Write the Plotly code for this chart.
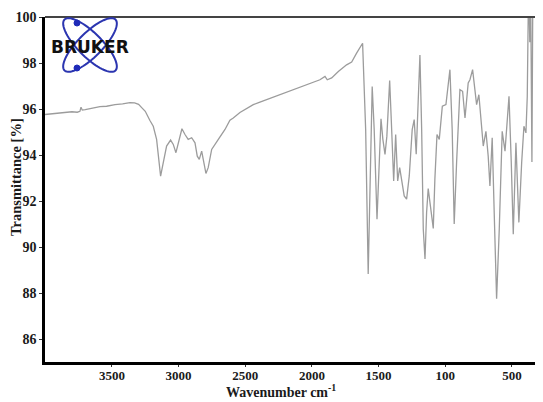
import numpy as np
import plotly.graph_objects as go

# ---------------- data ----------------
wavenumber = [
    4002, 3950, 3900, 3850, 3800, 3760, 3740, 3732, 3722, 3700, 3650, 3590, 3540, 3477, 3420,
    3365, 3330, 3300, 3275, 3250, 3215, 3190, 3165, 3153, 3135, 3115, 3090, 3060, 3040, 3020,
    2995, 2975, 2952, 2928, 2902, 2877, 2860, 2845, 2827, 2810, 2795, 2778, 2752, 2702, 2652,
    2615, 2590, 2540, 2490, 2440, 2390, 2340, 2290, 2240, 2190, 2140, 2090, 2040, 1990, 1940,
    1902, 1885, 1852, 1802, 1740, 1702, 1665, 1620,
    1597, 1578, 1548, 1533, 1512, 1498, 1482, 1468, 1452, 1438, 1417, 1402, 1387, 1372, 1357,
    1342, 1327, 1308, 1290, 1270, 1248, 1233, 1218, 1203, 1190, 1177, 1165, 1152, 1140, 1128,
    1108, 1090, 1078, 1062, 1045, 1022, 995, 965, 948, 933, 915, 890, 870, 852, 828, 815, 795,
    783, 765, 748, 733, 715, 695, 678, 665, 648, 633, 615, 595, 573, 552, 522, 505, 490, 470,
    448, 427, 410, 395, 385, 375, 366, 360, 350, 343, 300, 297,
]
transmittance = [
    95.76, 95.79, 95.83, 95.85, 95.88, 95.86, 95.90, 96.08, 95.95, 95.97, 96.03, 96.10, 96.12, 96.19, 96.22,
    96.28, 96.27, 96.20, 96.05, 95.90, 95.50, 95.25, 94.68, 94.10, 93.08, 93.67, 94.39, 94.65, 94.46, 94.10,
    94.68, 95.14, 94.89, 94.68, 94.75, 94.53, 93.95, 93.81, 94.17, 93.67, 93.20, 93.45, 94.24, 94.68, 95.11,
    95.51, 95.61, 95.85, 96.02, 96.19, 96.30, 96.41, 96.52, 96.62, 96.74, 96.84, 96.95, 97.06, 97.16, 97.27,
    97.42, 97.27, 97.35, 97.63, 97.92, 98.04, 98.43, 98.86,
    95.10, 88.83, 96.98, 95.10, 91.21, 93.67, 95.57, 94.68, 94.03, 94.82, 97.24, 95.10, 92.87, 94.89, 92.87,
    93.45, 92.94, 92.22, 92.08, 93.09, 95.10, 95.54, 94.03, 96.55, 98.35, 95.10, 90.78, 89.48, 91.50, 92.54,
    91.65, 90.81, 92.94, 94.89, 94.68, 96.12, 96.19, 97.71, 95.10, 91.00, 93.67, 96.84, 96.77, 95.61, 97.13, 97.27, 97.71,
    96.98, 96.19, 96.62, 95.54, 94.39, 95.03, 93.95, 92.65, 94.75, 91.50, 87.75, 90.78, 95.03, 94.17, 96.55, 93.67, 90.56, 94.53,
    91.07, 93.67, 95.25, 94.96, 96.55, 101.5, 98.9, 101.5, 93.70, 101.5, 101.5, 84.0,
]

x_tick_vals = [3500, 3000, 2500, 2000, 1500, 1000, 500]
x_tick_text = ["3500", "3000", "2500", "2000", "1500", "100", "500"]
y_tick_vals = [86, 88, 90, 92, 94, 96, 98, 100]

X_RANGE = [4002, 267]
Y_RANGE = [85, 100]

# ---------------- figure ----------------
OFF = 8                      # default page body margin
W, H = 543 - OFF, 402 - OFF
ML, MR, MT, MB = 45 - OFF, 0, 17 - OFF, 40
PW, PH = W - ML - MR, H - MT - MB

def px2paper(px, py):
    """window pixel -> paper coords"""
    fx, fy = px - OFF, py - OFF
    return (fx - ML) / PW, (H - MB - fy) / PH

fig = go.Figure()
fig.add_trace(go.Scatter(
    x=wavenumber, y=transmittance, mode="lines",
    line=dict(color="#9c9c9c", width=1.3), hoverinfo="skip", showlegend=False,
))

serif = "Liberation Serif, Times New Roman, serif"

fig.update_layout(
    width=W, height=H,
    margin=dict(l=ML, r=MR, t=MT, b=MB, autoexpand=False),
    paper_bgcolor="white", plot_bgcolor="white",
    showlegend=False,
    xaxis=dict(
        range=X_RANGE, tickvals=x_tick_vals, ticktext=x_tick_text, automargin=False,
        showgrid=False, zeroline=False, showline=True, linecolor="black", linewidth=3,
        ticks="outside", ticklen=2, tickcolor="#333", ticklabelstandoff=-3,
        tickfont=dict(family=serif, size=13, color="#1a1a1a", weight="bold"),
    ),
    yaxis=dict(
        range=Y_RANGE, tickvals=y_tick_vals, automargin=False,
        showgrid=False, zeroline=False, showline=True, linecolor="black", linewidth=2.5,
        ticks="outside", ticklen=3, tickcolor="#333",
        tickfont=dict(family=serif, size=14, color="#1a1a1a", weight="bold"),
    ),
)

# top frame line
fig.add_shape(type="line", xref="paper", yref="paper", x0=0, x1=1, y0=1, y1=1,
              line=dict(color="#444", width=2))

# axis titles
tx, ty = px2paper(281, 401)
fig.add_annotation(xref="paper", yref="paper", x=tx, y=ty,
                   text="Wavenumber cm<sup>-1</sup>", showarrow=False,
                   font=dict(family=serif, size=14, color="#1a1a1a", weight="bold"),
                   xanchor="center", yanchor="bottom", borderpad=0)
tx, ty = px2paper(16, 177)
fig.add_annotation(xref="paper", yref="paper", x=tx, y=ty,
                   text="Transmittance [%]", showarrow=False, textangle=-90,
                   font=dict(family=serif, size=14.5, color="#1a1a1a", weight="bold"),
                   xanchor="center", yanchor="middle", borderpad=0)

# ---------------- Bruker logo (decoration) ----------------
cx, cy = 90, 45
a, b = 36, 12
t = np.linspace(0, 2 * np.pi, 80)
for ang in (np.pi / 4, -np.pi / 4):
    ex = cx + a * np.cos(t) * np.cos(ang) - b * np.sin(t) * np.sin(ang)
    ey = cy + a * np.cos(t) * np.sin(ang) + b * np.sin(t) * np.cos(ang)
    pts = [px2paper(u, v) for u, v in zip(ex, ey)]
    path = "M " + " L ".join(f"{p[0]:.5f},{p[1]:.5f}" for p in pts) + " Z"
    fig.add_shape(type="path", xref="paper", yref="paper", path=path,
                  line=dict(color="#2b35b0", width=2))
for dx, dy in ((77, 23), (77, 68)):
    x0, y0 = px2paper(dx - 3, dy + 3)
    x1, y1 = px2paper(dx + 3, dy - 3)
    fig.add_shape(type="circle", xref="paper", yref="paper", x0=x0, y0=y0, x1=x1, y1=y1,
                  fillcolor="#1e2ab8", line=dict(color="#1e2ab8", width=1))
lx, ly = px2paper(90, 46.5)
fig.add_annotation(xref="paper", yref="paper", x=lx, y=ly, text="BRUKER", showarrow=False,
                   font=dict(family="DejaVu Sans, Arial, sans-serif", size=17, color="#111",
                             weight="bold"),
                   xanchor="center", yanchor="middle")

fig.write_html("out.html")
